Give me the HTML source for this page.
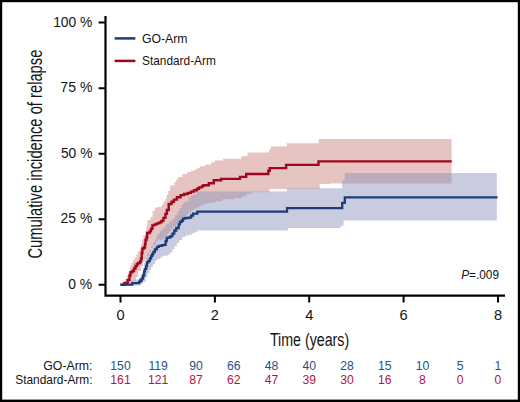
<!DOCTYPE html>
<html><head><meta charset="utf-8"><title>Cumulative incidence of relapse</title>
<style>
html,body{margin:0;padding:0;background:#fff;}
body{width:520px;height:402px;overflow:hidden;}
svg{display:block;font-family:"Liberation Sans", sans-serif;}
</style></head>
<body>
<svg width="520" height="402" viewBox="0 0 520 402">
<rect x="0" y="0" width="520" height="402" fill="#000"/>
<rect x="2.2" y="2.2" width="515.6" height="397.4" fill="#fff"/>
<path d="M120.5,285.0 L123.0,285.0 L123.0,282.0 L125.0,282.0 L125.0,279.0 L127.0,279.0 L127.0,275.0 L128.5,275.0 L128.5,271.5 L129.8,271.5 L129.8,267.5 L130.8,267.5 L130.8,265.0 L131.5,265.0 L131.5,263.0 L133.0,263.0 L133.0,260.0 L134.5,260.0 L134.5,257.5 L136.4,257.5 L136.4,254.5 L138.0,254.5 L138.0,251.0 L139.9,251.0 L139.9,248.3 L141.0,248.3 L141.0,244.0 L142.2,244.0 L142.2,239.3 L143.5,239.3 L143.5,235.0 L145.1,235.0 L145.1,231.1 L146.3,231.1 L146.3,226.0 L147.4,226.0 L147.4,219.9 L150.4,219.9 L150.4,216.9 L152.6,216.9 L152.6,211.0 L154.9,211.0 L154.9,208.0 L156.7,208.0 L156.7,207.0 L161.8,207.0 L161.8,204.8 L163.5,204.8 L163.5,201.5 L165.5,201.5 L165.5,198.3 L166.8,198.3 L166.8,195.0 L168.2,195.0 L168.2,191.0 L170.2,191.0 L170.2,185.5 L174.5,185.5 L174.5,182.0 L176.2,182.0 L176.2,179.5 L178.0,179.5 L178.0,177.0 L182.3,177.0 L182.3,174.0 L187.5,174.0 L187.5,172.0 L191.0,172.0 L191.0,170.8 L194.8,170.8 L194.8,169.5 L197.0,169.5 L197.0,168.3 L200.0,168.3 L200.0,166.2 L205.0,166.2 L205.0,164.5 L211.2,164.5 L211.2,162.3 L215.0,162.3 L215.0,160.6 L223.0,160.6 L223.0,158.8 L241.2,158.8 L241.2,156.2 L247.5,156.2 L247.5,152.5 L269.3,152.5 L269.3,149.2 L270.8,149.2 L270.8,146.4 L286.8,146.4 L286.8,143.3 L318.8,143.3 L318.8,139.1 L451.6,139.1 L451.6,139.1 L451.6,183.6 L451.6,183.6 L330.0,183.6 L330.0,184.0 L319.6,184.0 L319.6,189.0 L269.4,189.0 L269.4,192.3 L252.1,192.3 L252.1,193.7 L246.9,193.7 L246.9,196.2 L242.2,196.2 L242.2,198.1 L234.8,198.1 L234.8,199.3 L222.3,199.3 L222.3,201.2 L216.1,201.2 L216.1,202.4 L211.1,202.4 L211.1,202.9 L208.5,202.9 L208.5,203.6 L206.1,203.6 L206.1,204.5 L203.5,204.5 L203.5,205.5 L201.2,205.5 L201.2,206.5 L198.5,206.5 L198.5,207.4 L196.2,207.4 L196.2,208.5 L193.5,208.5 L193.5,210.0 L191.2,210.0 L191.2,212.5 L188.5,212.5 L188.5,214.3 L186.7,214.3 L186.7,216.0 L183.5,216.0 L183.5,218.0 L181.1,218.0 L181.1,221.0 L178.5,221.0 L178.5,223.5 L176.2,223.5 L176.2,226.0 L173.5,226.0 L173.5,228.5 L171.2,228.5 L171.2,231.0 L169.1,231.0 L169.1,233.5 L167.5,233.5 L167.5,236.5 L165.0,236.5 L165.0,238.5 L162.4,238.5 L162.4,240.0 L160.0,240.0 L160.0,239.5 L157.9,239.5 L157.9,241.5 L156.0,241.5 L156.0,244.7 L153.4,244.7 L153.4,248.0 L151.0,248.0 L151.0,252.0 L149.0,252.0 L149.0,256.0 L147.0,256.0 L147.0,259.0 L145.0,259.0 L145.0,262.0 L143.0,262.0 L143.0,266.0 L141.0,266.0 L141.0,271.0 L138.0,271.0 L138.0,277.0 L136.0,277.0 L136.0,281.0 L133.0,281.0 L133.0,284.0 L130.0,284.0 L130.0,285.5 L120.5,285.5 Z" fill="#e6c4c1"/>
<path d="M120.5,284.6 L131.5,284.6 L131.5,280.5 L135.0,280.5 L135.0,279.5 L138.9,279.5 L138.9,278.0 L140.5,278.0 L140.5,274.5 L142.0,274.5 L142.0,272.0 L143.0,272.0 L143.0,268.0 L144.0,268.0 L144.0,263.0 L145.5,263.0 L145.5,257.0 L147.0,257.0 L147.0,253.0 L149.0,253.0 L149.0,250.5 L151.0,250.5 L151.0,246.5 L153.0,246.5 L153.0,242.5 L155.0,242.5 L155.0,239.5 L156.3,239.5 L156.3,236.5 L157.3,236.5 L157.3,234.5 L158.5,234.5 L158.5,233.0 L160.1,233.0 L160.1,231.0 L161.5,231.0 L161.5,229.5 L163.0,229.5 L163.0,228.0 L165.0,228.0 L165.0,226.0 L166.2,226.0 L166.2,224.0 L169.0,224.0 L169.0,221.5 L172.4,221.5 L172.4,218.7 L175.0,218.7 L175.0,215.0 L177.4,215.0 L177.4,211.2 L179.5,211.2 L179.5,208.0 L181.1,208.0 L181.1,205.0 L183.0,205.0 L183.0,203.0 L184.9,203.0 L184.9,201.2 L188.8,201.2 L188.8,197.3 L191.0,197.3 L191.0,196.0 L193.3,196.0 L193.3,194.3 L196.7,194.3 L196.7,191.4 L287.0,191.4 L287.0,188.2 L342.2,188.2 L342.2,180.5 L344.8,180.5 L344.8,172.9 L496.8,172.9 L496.8,172.9 L496.8,220.6 L496.8,220.6 L343.5,220.6 L343.5,225.8 L340.8,225.8 L340.8,227.9 L287.8,227.9 L287.8,230.4 L197.3,230.4 L197.3,232.1 L194.9,232.1 L194.9,233.2 L191.9,233.2 L191.9,234.7 L188.9,234.7 L188.9,235.4 L185.1,235.4 L185.1,236.9 L182.2,236.9 L182.2,239.9 L179.2,239.9 L179.2,242.9 L176.9,242.9 L176.9,245.9 L174.7,245.9 L174.7,248.9 L172.5,248.9 L172.5,252.6 L170.2,252.6 L170.2,254.6 L168.0,254.6 L168.0,255.5 L165.0,255.5 L165.0,255.9 L162.4,255.9 L162.4,257.5 L160.0,257.5 L160.0,259.3 L156.8,259.3 L156.8,261.0 L155.0,261.0 L155.0,264.0 L153.0,264.0 L153.0,267.1 L151.2,267.1 L151.2,270.0 L149.5,270.0 L149.5,273.0 L147.5,273.0 L147.5,277.2 L145.6,277.2 L145.6,282.0 L143.0,282.0 L143.0,284.0 L141.0,284.0 L141.0,285.5 L138.0,285.5 L138.0,285.5 L120.5,285.5 Z" fill="rgb(140,149,186)" fill-opacity="0.48"/>
<path d="M120.5,284.8 H124.5 V283.0 H127.7 V280.0 H129.5 V275.5 H130.5 V272.3 H132.3 V271.0 H134.0 V268.5 H135.5 V266.0 H136.8 V264.2 H138.0 V263.0 H140.0 V261.5 H141.0 V258.5 H141.7 V253.0 H142.4 V248.5 H144.0 V247.5 H145.0 V244.0 H145.5 V240.0 H146.5 V237.5 H147.2 V233.0 H149.6 V231.4 H151.0 V228.9 H152.4 V225.4 H154.4 V224.4 H156.9 V223.4 H159.4 V222.4 H161.4 V220.9 H163.4 V217.9 H165.4 V213.9 H166.9 V210.0 H168.7 V204.0 H171.6 V201.8 H173.9 V199.6 H176.9 V197.3 H180.6 V195.1 H184.0 V194.0 H187.8 V192.9 H191.0 V191.6 H194.0 V190.2 H197.0 V188.8 H199.0 V187.4 H202.2 V185.9 H203.8 V185.2 H208.8 V183.3 H213.8 V180.3 H221.2 V178.9 H240.0 V176.9 H246.2 V174.0 H268.3 V170.8 H269.7 V168.1 H286.1 V164.9 H318.5 V161.4 H451.7 V161.4" fill="none" stroke="#a0061f" stroke-width="2.4"/>
<path d="M120.5,284.6 H132.3 V283.1 H139.0 V281.8 H140.3 V280.5 H141.7 V278.6 H143.0 V275.5 H144.2 V271.4 H145.0 V268.9 H146.2 V266.0 H147.0 V262.4 H148.4 V260.8 H149.9 V258.4 H151.2 V255.8 H152.3 V254.0 H153.4 V251.9 H154.9 V249.4 H156.9 V246.9 H158.9 V245.9 H161.9 V245.2 H164.4 V244.8 H165.6 V241.0 H166.8 V237.9 H168.7 V237.3 H170.6 V236.1 H172.4 V233.6 H174.3 V230.5 H176.2 V228.0 H178.7 V224.3 H179.9 V221.8 H181.8 V220.5 H183.0 V218.7 H184.9 V218.0 H188.6 V217.6 H191.2 V215.5 H193.1 V213.6 H197.4 V211.7 H287.0 V208.2 H342.2 V202.8 H344.8 V197.3 H497.5 V197.3" fill="none" stroke="#1e3c78" stroke-width="2.3"/>
<path d="M105.5,16.1 V296.6 M104.4,295.7 H505" stroke="#000" stroke-width="2.2" fill="none"/>
<path d="M98.6,22.60 H105 M98.6,88.15 H105 M98.6,153.70 H105 M98.6,219.25 H105 M98.6,284.80 H105 M120.5,295 V302.4 M214.9,295 V302.4 M309.2,295 V302.4 M403.6,295 V302.4 M498.0,295 V302.4 " stroke="#000" stroke-width="2" fill="none"/>
<text transform="translate(53.16,26.56) scale(0.9596,1)" font-size="14.42" fill="#141414">100 %</text>
<text transform="translate(60.36,92.35) scale(0.9626,1)" font-size="14.61" fill="#141414">75 %</text>
<text transform="translate(60.95,158.05) scale(0.9390,1)" font-size="14.70" fill="#141414">50 %</text>
<text transform="translate(60.60,223.35) scale(0.9495,1)" font-size="14.70" fill="#141414">25 %</text>
<text transform="translate(68.24,289.05) scale(0.9456,1)" font-size="14.70" fill="#141414">0 %</text>
<text x="120.5" y="320.4" text-anchor="middle" font-size="14.6" fill="#141414">0</text>
<text x="214.9" y="320.4" text-anchor="middle" font-size="14.6" fill="#141414">2</text>
<text x="309.2" y="320.4" text-anchor="middle" font-size="14.6" fill="#141414">4</text>
<text x="403.6" y="320.4" text-anchor="middle" font-size="14.6" fill="#141414">6</text>
<text x="498.0" y="320.4" text-anchor="middle" font-size="14.6" fill="#141414">8</text>
<text transform="translate(41.80,257.8) rotate(-90) translate(-0.74,0) scale(0.7455,1)" font-size="19.79" fill="#141414">Cumulative incidence of relapse</text>
<text transform="translate(269.88,346.30) scale(0.7419,1)" font-size="19.20" fill="#141414">Time (years)</text>
<path d="M114.6,38.4 H135.4" stroke="#1e3c78" stroke-width="2.5"/>
<path d="M114.6,60.9 H135.4" stroke="#a0061f" stroke-width="2.5"/>
<text transform="translate(141.89,42.78) scale(1.0350,1)" font-size="11.87" fill="#141414">GO-Arm</text>
<text transform="translate(141.97,65.08) scale(1.0013,1)" font-size="11.87" fill="#141414">Standard-Arm</text>
<text transform="translate(461.23,278.60) scale(0.9545,1)" font-size="12.36" fill="#141414"><tspan font-style="italic">P</tspan>=.009</text>
<text transform="translate(43.28,369.88) scale(1.0264,1)" font-size="12.01" fill="#141414">GO-Arm:</text>
<text transform="translate(15.27,383.68) scale(0.9558,1)" font-size="12.44" fill="#141414">Standard-Arm:</text>
<text x="120.5" y="369.8" text-anchor="middle" font-size="12.2" fill="#2c4c8c">150</text>
<text x="120.5" y="383.6" text-anchor="middle" font-size="12.2" fill="#b01840">161</text>
<text x="158.2" y="369.8" text-anchor="middle" font-size="12.2" fill="#2c4c8c">119</text>
<text x="158.2" y="383.6" text-anchor="middle" font-size="12.2" fill="#b01840">121</text>
<text x="196.0" y="369.8" text-anchor="middle" font-size="12.2" fill="#2c4c8c">90</text>
<text x="196.0" y="383.6" text-anchor="middle" font-size="12.2" fill="#b01840">87</text>
<text x="233.8" y="369.8" text-anchor="middle" font-size="12.2" fill="#2c4c8c">66</text>
<text x="233.8" y="383.6" text-anchor="middle" font-size="12.2" fill="#b01840">62</text>
<text x="271.5" y="369.8" text-anchor="middle" font-size="12.2" fill="#2c4c8c">48</text>
<text x="271.5" y="383.6" text-anchor="middle" font-size="12.2" fill="#b01840">47</text>
<text x="309.2" y="369.8" text-anchor="middle" font-size="12.2" fill="#2c4c8c">40</text>
<text x="309.2" y="383.6" text-anchor="middle" font-size="12.2" fill="#b01840">39</text>
<text x="347.0" y="369.8" text-anchor="middle" font-size="12.2" fill="#2c4c8c">28</text>
<text x="347.0" y="383.6" text-anchor="middle" font-size="12.2" fill="#b01840">30</text>
<text x="384.8" y="369.8" text-anchor="middle" font-size="12.2" fill="#2c4c8c">15</text>
<text x="384.8" y="383.6" text-anchor="middle" font-size="12.2" fill="#b01840">16</text>
<text x="422.5" y="369.8" text-anchor="middle" font-size="12.2" fill="#2c4c8c">10</text>
<text x="422.5" y="383.6" text-anchor="middle" font-size="12.2" fill="#b01840">8</text>
<text x="460.2" y="369.8" text-anchor="middle" font-size="12.2" fill="#2c4c8c">5</text>
<text x="460.2" y="383.6" text-anchor="middle" font-size="12.2" fill="#b01840">0</text>
<text x="498.0" y="369.8" text-anchor="middle" font-size="12.2" fill="#2c4c8c">1</text>
<text x="498.0" y="383.6" text-anchor="middle" font-size="12.2" fill="#b01840">0</text>
</svg>
</body></html>
